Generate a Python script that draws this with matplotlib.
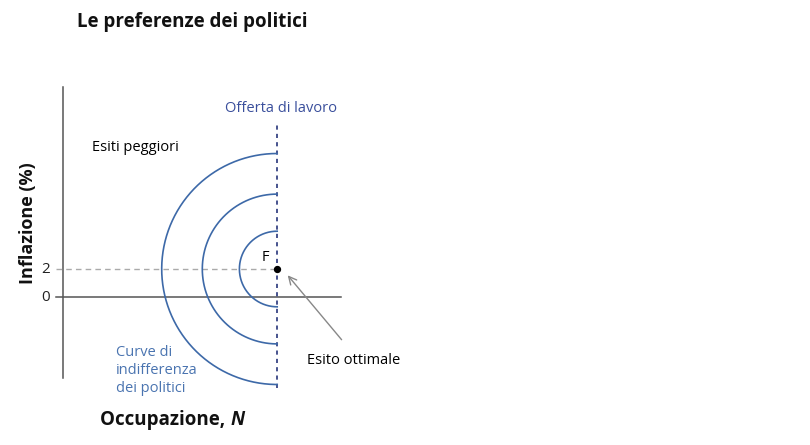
import numpy as np
import matplotlib.pyplot as plt

plt.rcParams['font.family'] = ['Open Sans', 'DejaVu Sans']

# data
employment_opt = 15.3        # labour supply line / point F
inflation_target = 2
radii = [2.7, 5.35, 8.25]    # indifference curves around F
yticks = [0, 2]
title = "Le preferenze dei politici"

blue = '#3d69a8'
navy = '#27357a'
grey = '#555555'

fig = plt.figure(figsize=(8.1, 4.45), dpi=100)
ax = fig.add_axes([40 / 810, 45 / 445, 380 / 810, 320 / 445])
ax.set_xlim(-1.643, 25.5)
ax.set_ylim(-7.357, 15.5)
ax.axis('off')

# axes
ax.plot([0, 0], [-5.8, 15], color=grey, lw=1.1)
ax.plot([-0.5, 19.85], [0, 0], color=grey, lw=1.1)
ax.plot([-0.5, employment_opt], [inflation_target, inflation_target],
        color='#aaaaaa', lw=1, linestyle=(0, (4, 3)))
for t in yticks:
    ax.text(-0.95, t, str(t), ha='right', va='center', fontsize=11, color='#222222')

# labour supply
ax.plot([employment_opt, employment_opt], [-6.5, 12.5], color=navy, lw=1.2,
        linestyle=(0, (2.5, 2.5)))
ax.text(employment_opt + 0.3, 13.5, "Offerta di lavoro", ha='center', va='center',
        fontsize=10.5, color='#3a4f9c')

# indifference curves (left half circles)
theta = np.linspace(np.pi / 2, 3 * np.pi / 2, 200)
for r in radii:
    ax.plot(employment_opt + r * np.cos(theta), inflation_target + r * np.sin(theta),
            color=blue, lw=1.2)

ax.scatter([employment_opt], [inflation_target], s=18, color='black', zorder=5)
ax.text(14.45, 2.8, "F", ha='center', va='center', fontsize=10.5)

ax.text(2.07, 10.7, "Esiti peggiori", ha='left', va='center', fontsize=10.5)
ax.text(17.4, -4.5, "Esito ottimale", ha='left', va='center', fontsize=10.5)
ax.text(3.75, -3.45, "Curve di\nindifferenza\ndei politici", ha='left', va='top',
        fontsize=10.5, color='#4a74b0', linespacing=1.25)

ax.annotate("", xy=(16.05, 1.55), xytext=(19.9, -3.05),
            arrowprops=dict(arrowstyle='->', color='#888888', lw=1,
                            shrinkA=0, shrinkB=0, mutation_scale=14))

# labels
fig.text(77 / 810, 1 - 22 / 445, title, ha='left', va='center',
         fontsize=13.5, fontweight='bold', color='#111111')
fig.text(28 / 810, 1 - 223 / 445, "Inflazione (%)", rotation=90, ha='center',
         va='center', fontsize=13, fontweight='bold', color='#111111')
xl = fig.text(100 / 810, 1 - 420 / 445, "Occupazione, ", ha='left', va='center',
              fontsize=13.5, fontweight='bold', color='#111111')
ax.annotate("N", xy=(1, 0), xycoords=xl, ha='left', va='bottom',
            fontsize=13.5, fontweight='bold', style='italic', color='#111111')

fig.savefig('out.png', dpi=100)
